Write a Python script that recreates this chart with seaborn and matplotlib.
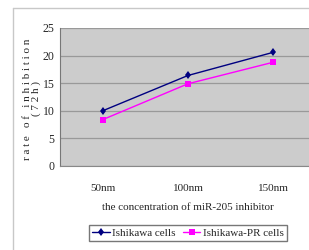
import matplotlib
matplotlib.use("Agg")
import matplotlib.pyplot as plt
import seaborn as sns
import pandas as pd
from matplotlib.lines import Line2D

# data
concentrations = ["50nm", "100nm", "150nm"]
ishikawa = [10.0, 16.4, 20.6]
ishikawa_pr = [8.4, 14.9, 18.8]
series_names = ["Ishikawa cells", "Ishikawa-PR cells"]

df = pd.DataFrame({
    "pos": list(range(len(concentrations))) * 2,
    "rate": ishikawa + ishikawa_pr,
    "cells": [series_names[0]] * 3 + [series_names[1]] * 3,
})

sns.set_style("white")
plt.rcParams["font.family"] = ["Liberation Serif", "DejaVu Serif"]

fig = plt.figure(figsize=(3.09, 2.5), dpi=100)
ax = fig.add_axes([60 / 309, 1 - 166 / 250, 256 / 309, 138 / 250])
ax.set_facecolor("#cccccc")

sns.lineplot(data=df, x="pos", y="rate", hue="cells", style="cells",
             palette=["#000080", "#ff00ff"], markers=["d", "s"], dashes=False,
             markersize=4.5, linewidth=1.0, markeredgewidth=0,
             ax=ax, legend=False)

ax.set_ylim(0, 25)
ax.set_xlim(-0.5, 2.5)
ax.set_yticks([0, 5, 10, 15, 20, 25])
ax.yaxis.grid(True, color="#999999", linewidth=0.9)
ax.set_axisbelow(True)
ax.set_xticks([0.5, 1.5])
ax.set_xticklabels([])
ax.tick_params(axis="x", direction="in", length=3, color="#888888", width=0.8)
ax.tick_params(axis="y", length=0, labelsize=8.5, pad=4)
ax.set_xlabel("")
ax.set_ylabel("")
for side in ["top", "right"]:
    ax.spines[side].set_visible(False)
ax.spines["left"].set_color("#777777")
ax.spines["bottom"].set_color("#888888")

for i, lab in enumerate(concentrations):
    ax.text(i, -4, lab, ha="center", va="center", fontsize=8, clip_on=False)

fig.text(188 / 309, 1 - 208 / 250, "the concentration of miR-205 inhibitor",
         ha="center", va="center", fontsize=8)
fig.text(32 / 309, 1 - 99 / 250,
         "r a t e   o f   i n h i b i t i o n\n( 7 2 h )",
         ha="center", va="center", rotation=90, fontsize=8, linespacing=0.8)

# outer chart frame (top and left edges only, the rest is cut off)
x0, y0 = 13 / 309, 1 - 8 / 250
fig.add_artist(Line2D([x0, 1.0], [y0, y0], transform=fig.transFigure,
                      color="#c8c8c8", linewidth=1.0))
fig.add_artist(Line2D([x0, x0], [0.0, y0], transform=fig.transFigure,
                      color="#c8c8c8", linewidth=1.0))

handles = [
    Line2D([], [], color="#000080", marker="d", markersize=4.5, markeredgewidth=0, linewidth=1.0),
    Line2D([], [], color="#ff00ff", marker="s", markersize=4.5, markeredgewidth=0, linewidth=1.0),
]
fig.legend(handles, series_names, loc="upper center",
           bbox_to_anchor=(188 / 309, 1 - 225 / 250), ncol=2,
           fancybox=False, frameon=True, edgecolor="#555555", fontsize=8,
           handlelength=1.6, handletextpad=0.2, columnspacing=0.6,
           borderpad=0.3, borderaxespad=0)

fig.savefig("out.png", dpi=100)
